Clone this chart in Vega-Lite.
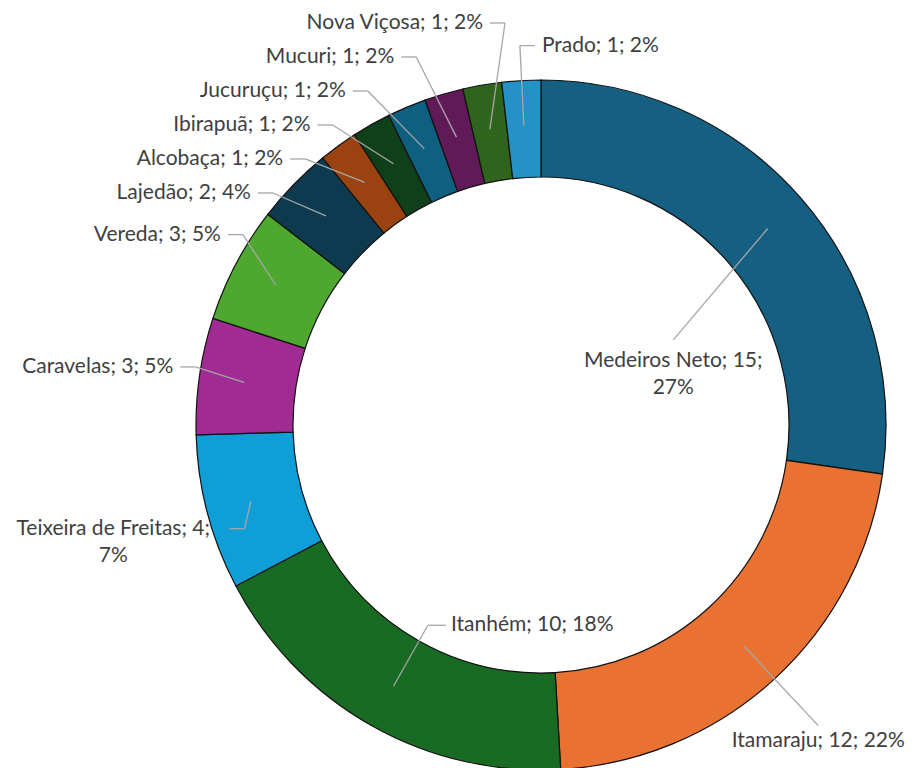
{
  "$schema": "https://vega.github.io/schema/vega-lite/v6.json",
  "width": 690,
  "height": 686,
  "autosize": {"type": "none"},
  "padding": {"left": 196, "top": 82, "right": 31, "bottom": 0},
  "background": "white",
  "config": {"view": {"stroke": null}},
  "data": {
    "values": [
      {"municipio": "Medeiros Neto", "n": 15},
      {"municipio": "Itamaraju", "n": 12},
      {"municipio": "Itanhém", "n": 10},
      {"municipio": "Teixeira de Freitas", "n": 4},
      {"municipio": "Caravelas", "n": 3},
      {"municipio": "Vereda", "n": 3},
      {"municipio": "Lajedão", "n": 2},
      {"municipio": "Alcobaça", "n": 1},
      {"municipio": "Ibirapuã", "n": 1},
      {"municipio": "Jucuruçu", "n": 1},
      {"municipio": "Mucuri", "n": 1},
      {"municipio": "Nova Viçosa", "n": 1},
      {"municipio": "Prado", "n": 1}
    ]
  },
  "transform": [
    {"window": [{"op": "row_number", "as": "idx"}]},
    {"joinaggregate": [{"op": "sum", "field": "n", "as": "total"}]},
    {"window": [{"op": "sum", "field": "n", "as": "cum"}], "sort": [{"field": "idx", "order": "ascending"}], "frame": [null, 0]},
    {"calculate": "2*PI*(datum.cum - datum.n/2)/datum.total", "as": "a"},
    {"calculate": "sin(datum.a)", "as": "sa"},
    {"calculate": "cos(datum.a)", "as": "ca"},
    {"calculate": "format(datum.n/datum.total, '.0%')", "as": "pt"},
    {"calculate": "datum.municipio + '; ' + datum.n + ';'", "as": "head"},
    {"calculate": "datum.head + ' ' + datum.pt", "as": "full"},
    {"calculate": "length(datum.full) > 20", "as": "multi"},
    {"calculate": "datum.multi ? datum.head + '\\n' + datum.pt : datum.full", "as": "lab"},
    {"calculate": "(datum.multi ? length(datum.head) : length(datum.full)) * 9.5", "as": "w"},
    {"calculate": "300*datum.sa", "as": "px"},
    {"calculate": "-300*datum.ca", "as": "py"},
    {"calculate": "-408*datum.ca", "as": "ny"},
    {"calculate": "datum.ca <= -0.5", "as": "bottom"},
    {"calculate": "datum.sa < -0.1 ? 'left' : 'right'", "as": "side"},
    {"calculate": "datum.bottom ? (datum.ny + 30 > 343 || abs(410*datum.sa) + datum.w/2 > 376) : (datum.side == 'right' && 370*datum.sa + 22 + datum.w > 376)", "as": "inside"},
    {"calculate": "!datum.inside && !datum.bottom && datum.side == 'left'", "as": "chain"},
    {"window": [{"op": "row_number", "as": "k"}], "groupby": ["chain"], "sort": [{"field": "ny", "order": "ascending"}]},
    {"calculate": "datum.ny - (datum.k - 1)*34", "as": "t"},
    {"window": [{"op": "max", "field": "t", "as": "tmax"}], "groupby": ["chain"], "sort": [{"field": "ny", "order": "ascending"}], "frame": [null, 0]},
    {"calculate": "datum.chain ? (datum.k - 1)*34 + datum.tmax : (datum.bottom ? datum.ny : -380*datum.ca)", "as": "ly"},
    {"calculate": "datum.ly < 0 ? datum.ly + 10 : datum.ly - (datum.multi ? 26 : 10)", "as": "yc"},
    {"calculate": "max(340*sqrt(max(0, 1 - pow(datum.ly/408, 2))), sqrt(max(0, 345*345 - pow(datum.yc, 2))) + 26)", "as": "lxr"},
    {"calculate": "max(-datum.lxr, -537 + datum.w)", "as": "tend"},
    {"calculate": "datum.inside ? (datum.ca > 0 ? 'CT' : (datum.sa < 0 ? 'L' : 'R')) : datum.bottom ? 'CT' : datum.chain ? (datum.multi ? 'C' : 'R') : (datum.multi ? 'C' : 'L')", "as": "mode"},
    {"calculate": "datum.inside ? (datum.ca > 0 ? 175*datum.sa : 230*datum.sa) : datum.bottom ? 410*datum.sa : datum.chain ? datum.tend + 22 : 370*datum.sa", "as": "ex"},
    {"calculate": "datum.inside ? (datum.ca > 0 ? -130*datum.ca : -230*datum.ca) : datum.ly", "as": "ey"},
    {"calculate": "datum.inside ? (datum.ca > 0 ? datum.ex : (datum.sa < 0 ? datum.ex + 18 : datum.ex - 18)) : datum.bottom ? datum.ex : datum.chain ? datum.tend + 7 : datum.ex + 15", "as": "hx"},
    {"calculate": "datum.inside ? (datum.ca > 0 ? datum.ex : (datum.sa < 0 ? datum.hx + 5 : datum.hx - 5)) : datum.bottom ? datum.ex : datum.chain ? (datum.multi ? datum.tend - datum.w/2 : datum.tend) : (datum.multi ? datum.hx + 7 + datum.w/2 : datum.hx + 7)", "as": "tx"},
    {"calculate": "datum.inside ? (datum.ca > 0 ? datum.ey + 10 : datum.ey) : datum.bottom ? datum.ey + 4 : datum.ey", "as": "ty"}
  ],
  "layer": [
    {
      "mark": {"type": "arc", "outerRadius": 345, "innerRadius": 248, "stroke": "#111111", "strokeWidth": 1.2},
      "encoding": {
        "theta": {"field": "n", "type": "quantitative", "stack": true},
        "order": {"field": "idx", "type": "quantitative"},
        "color": {
          "field": "municipio",
          "type": "nominal",
          "legend": null,
          "scale": {
            "domain": ["Medeiros Neto", "Itamaraju", "Itanhém", "Teixeira de Freitas", "Caravelas", "Vereda", "Lajedão", "Alcobaça", "Ibirapuã", "Jucuruçu", "Mucuri", "Nova Viçosa", "Prado"],
            "range": ["#156082", "#E97132", "#196B24", "#0F9ED5", "#A02B93", "#4EA72E", "#0E3A4F", "#9A4311", "#10401A", "#0E5F80", "#601A58", "#2F641C", "#2492C6"]
          }
        }
      }
    },
    {
      "mark": {"type": "rule", "stroke": "#a6a6a6", "strokeWidth": 1.3},
      "encoding": {
        "x": {"field": "px", "type": "quantitative", "scale": {"domain": [-345, 345], "nice": false, "zero": false}, "axis": null},
        "y": {"field": "py", "type": "quantitative", "scale": {"domain": [-343, 343], "nice": false, "zero": false, "reverse": true}, "axis": null},
        "x2": {"field": "ex"},
        "y2": {"field": "ey"}
      }
    },
    {
      "transform": [{"filter": "datum.hx != datum.ex"}],
      "mark": {"type": "rule", "stroke": "#a6a6a6", "strokeWidth": 1.3},
      "encoding": {
        "x": {"field": "hx", "type": "quantitative", "scale": {"domain": [-345, 345], "nice": false, "zero": false}, "axis": null},
        "x2": {"field": "ex"},
        "y": {"field": "ey", "type": "quantitative", "scale": {"domain": [-343, 343], "nice": false, "zero": false, "reverse": true}, "axis": null}
      }
    },
    {
      "transform": [{"filter": "datum.mode == 'R'"}],
      "mark": {"type": "text", "font": "Lato", "fontSize": 21, "fill": "#404040", "align": "right", "baseline": "middle", "lineBreak": "\n", "lineHeight": 27},
      "encoding": {
        "x": {"field": "tx", "type": "quantitative", "scale": {"domain": [-345, 345], "nice": false, "zero": false}, "axis": null},
        "y": {"field": "ty", "type": "quantitative", "scale": {"domain": [-343, 343], "nice": false, "zero": false, "reverse": true}, "axis": null},
        "text": {"field": "lab", "type": "nominal"}
      }
    },
    {
      "transform": [{"filter": "datum.mode == 'L'"}],
      "mark": {"type": "text", "font": "Lato", "fontSize": 21, "fill": "#404040", "align": "left", "baseline": "middle", "lineBreak": "\n", "lineHeight": 27},
      "encoding": {
        "x": {"field": "tx", "type": "quantitative", "scale": {"domain": [-345, 345], "nice": false, "zero": false}, "axis": null},
        "y": {"field": "ty", "type": "quantitative", "scale": {"domain": [-343, 343], "nice": false, "zero": false, "reverse": true}, "axis": null},
        "text": {"field": "lab", "type": "nominal"}
      }
    },
    {
      "transform": [{"filter": "datum.mode == 'C'"}],
      "mark": {"type": "text", "font": "Lato", "fontSize": 21, "fill": "#404040", "align": "center", "baseline": "middle", "lineBreak": "\n", "lineHeight": 27},
      "encoding": {
        "x": {"field": "tx", "type": "quantitative", "scale": {"domain": [-345, 345], "nice": false, "zero": false}, "axis": null},
        "y": {"field": "ty", "type": "quantitative", "scale": {"domain": [-343, 343], "nice": false, "zero": false, "reverse": true}, "axis": null},
        "text": {"field": "lab", "type": "nominal"}
      }
    },
    {
      "transform": [{"filter": "datum.mode == 'CT'"}],
      "mark": {"type": "text", "font": "Lato", "fontSize": 21, "fill": "#404040", "align": "center", "baseline": "top", "lineBreak": "\n", "lineHeight": 27},
      "encoding": {
        "x": {"field": "tx", "type": "quantitative", "scale": {"domain": [-345, 345], "nice": false, "zero": false}, "axis": null},
        "y": {"field": "ty", "type": "quantitative", "scale": {"domain": [-343, 343], "nice": false, "zero": false, "reverse": true}, "axis": null},
        "text": {"field": "lab", "type": "nominal"}
      }
    }
  ]
}
